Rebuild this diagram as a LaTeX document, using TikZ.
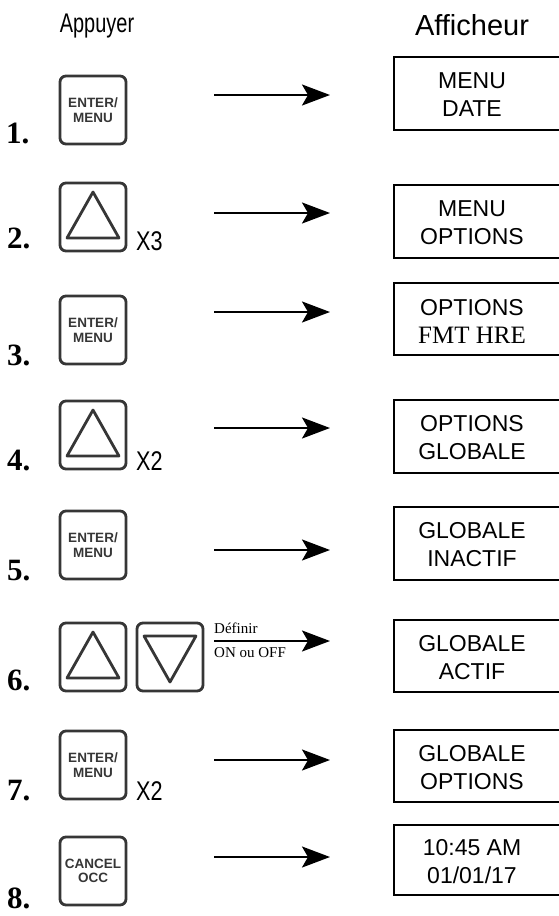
\documentclass[tikz,border=0pt]{standalone}
\usepackage{fontspec}
\setmainfont{Liberation Serif}
\newfontfamily\hv{Liberation Sans}
\newfontfamily\hvn[FakeStretch=0.8]{Liberation Sans}
\newfontfamily\hvnn[FakeStretch=0.74]{Liberation Sans}
\usetikzlibrary{arrows.meta}
\definecolor{keygray}{HTML}{363636}
\tikzset{
 keybox/.style={draw=keygray, line width=2.8pt, rounded corners=6pt, minimum width=66pt, minimum height=68pt, inner sep=0pt, align=center, font=\hv\bfseries\fontsize{13.5}{14.5}\selectfont, text=keygray},
 disp/.style={draw=black, line width=1.8pt, minimum width=168pt, inner sep=0pt},
 dtext/.style={font=\hv\fontsize{23}{28}\selectfont, align=center, inner sep=0pt},
 num/.style={font=\bfseries\fontsize{31}{31}\selectfont, anchor=base west, inner sep=0pt},
 times/.style={font=\hvn\fontsize{27}{27}\selectfont, anchor=base west, inner sep=0pt},
 head/.style={font=\hvnn\fontsize{27}{27}\selectfont, inner sep=0pt},
 arr/.style={line width=2.3pt, -{Stealth[length=28pt,width=21pt,inset=6pt]}},
 tri/.style={draw=keygray, line width=2.8pt, line join=round},
 small/.style={font=\fontsize{15}{15}\selectfont, anchor=base west, inner sep=0pt},
}
\begin{document}
\begin{tikzpicture}[x=1pt,y=-1pt]
\useasboundingbox (0,0) rectangle (559,916);
% headers
\node[head] (h1) at (97,26) {Appuyer};
\node[head, font=\hv\fontsize{29}{29}\selectfont] (h2) at (472,25) {Afficheur};

% keys
\node[keybox] (k1) at (93,110) {ENTER/\\MENU};
\node[keybox] (k2) at (93,217) {};
\node[keybox] (k3) at (93,330) {ENTER/\\MENU};
\node[keybox] (k4) at (93,435) {};
\node[keybox] (k5) at (93,545) {ENTER/\\MENU};
\node[keybox] (k6) at (93,657) {};
\node[keybox] (k6b) at (170,657) {};
\node[keybox] (k7) at (93,765) {ENTER/\\MENU};
\node[keybox] (k8) at (93,871) {CANCEL\\OCC};

% triangles
\draw[tri] ([shift={(0,-25)}]k2.center) -- ([shift={(26,21)}]k2.center) -- ([shift={(-26,21)}]k2.center) -- cycle;
\draw[tri] ([shift={(0,-25)}]k4.center) -- ([shift={(26,21)}]k4.center) -- ([shift={(-26,21)}]k4.center) -- cycle;
\draw[tri] ([shift={(0,-25)}]k6.center) -- ([shift={(26,21)}]k6.center) -- ([shift={(-26,21)}]k6.center) -- cycle;
\draw[tri] ([shift={(0,25)}]k6b.center) -- ([shift={(26,-21)}]k6b.center) -- ([shift={(-26,-21)}]k6b.center) -- cycle;

% numbers
\node[num] (n1) at (6,143) {1.};
\node[num] (n2) at (7,248) {2.};
\node[num] (n3) at (7,365) {3.};
\node[num] (n4) at (7,470) {4.};
\node[num] (n5) at (7,580) {5.};
\node[num] (n6) at (7,690) {6.};
\node[num] (n7) at (7,800) {7.};
\node[num] (n8) at (7,908) {8.};

% multipliers
\node[times] (x2) at (136,250) {X3};
\node[times] (x4) at (136,470) {X2};
\node[times] (x7) at (136,800) {X2};

% displays
\node[disp, minimum height=73pt] (d1) at (478,93.5) {};
\node[dtext] (t1) at (472,95) {MENU\\DATE};
\node[disp, minimum height=73pt] (d2) at (478,221.5) {};
\node[dtext] (t2) at (472,223) {MENU\\OPTIONS};
\node[disp, minimum height=72pt] (d3) at (478,319) {};
\node[dtext] (t3) at (472,321) {OPTIONS\\{\rmfamily\fontsize{25}{28}\selectfont FMT HRE}};
\node[disp, minimum height=73pt] (d4) at (478,436.5) {};
\node[dtext] (t4) at (472,438) {OPTIONS\\GLOBALE};
\node[disp, minimum height=73pt] (d5) at (478,543.5) {};
\node[dtext] (t5) at (472,545) {GLOBALE\\INACTIF};
\node[disp, minimum height=72pt] (d6) at (478,656) {};
\node[dtext] (t6) at (472,657.5) {GLOBALE\\ACTIF};
\node[disp, minimum height=72pt] (d7) at (478,766) {};
\node[dtext] (t7) at (472,767.5) {GLOBALE\\OPTIONS};
\node[disp, minimum height=70pt] (d8) at (478,860) {};
\node[dtext] (t8) at (472,861.5) {10:45 AM\\01/01/17};

% arrows
\foreach \i/\y in {1/95,2/213,3/312,4/428,5/550,6/641,7/760,8/857}{
  \coordinate (s\i) at (214,\y);
  \coordinate (e\i) at (330,\y);
  \draw[arr] (s\i) -- (e\i);
}
\node[small] (lab1) at ([shift={(0,-8)}]s6) {Définir};
\node[small] (lab2) at ([shift={(0,16)}]s6) {ON ou OFF};
\end{tikzpicture}
\end{document}
